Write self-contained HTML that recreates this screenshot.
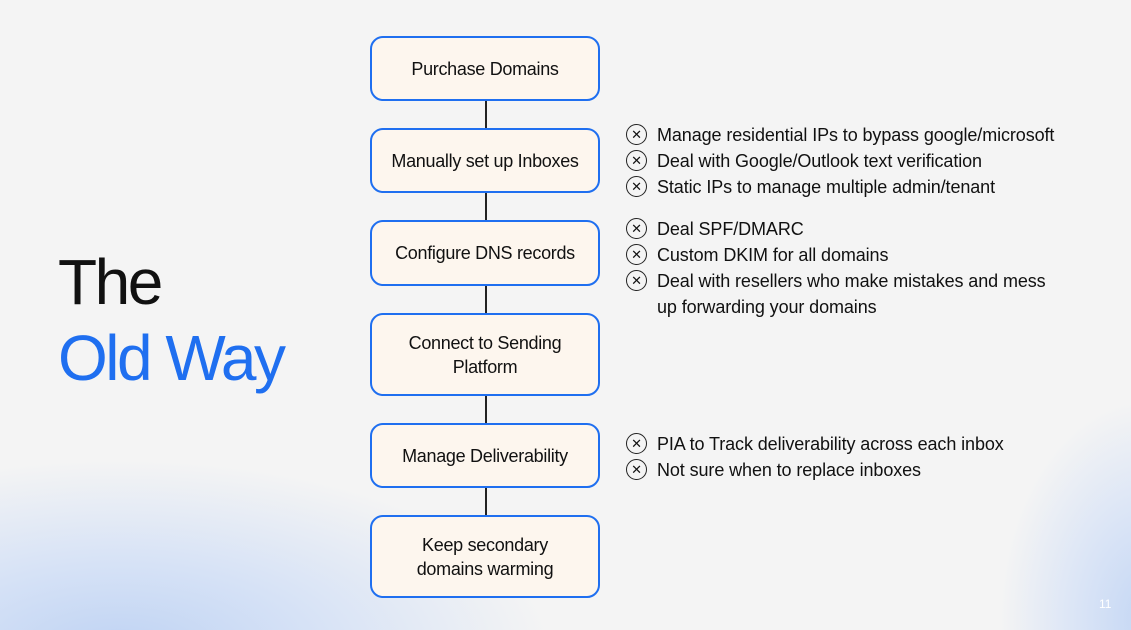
<!DOCTYPE html>
<html><head><style>
body{margin:0;width:1131px;height:630px;overflow:hidden;background:#f4f4f4;font-family:"Liberation Sans",sans-serif;position:relative}
.bg{position:absolute;inset:0;background:
radial-gradient(ellipse 430px 190px at 120px 650px,#bfd3f3 0%,#d6e2f6 45%,rgba(244,244,244,0) 100%),
radial-gradient(ellipse 150px 220px at 1150px 620px,#c3d6f4 0%,#dbe5f6 50%,rgba(244,244,244,0) 100%);}
.box{position:absolute;left:370px;width:226px;border:2px solid #1f6ff0;border-radius:13px;background:#fdf6ee;display:flex;align-items:center;justify-content:center;text-align:center;font-size:18px;color:#111;line-height:24px;letter-spacing:-0.3px}
.line{position:absolute;left:485px;width:2px;background:#222}
.t{position:absolute;font-size:64px;letter-spacing:-2.5px;left:58px;line-height:1}
.b{position:absolute;left:626px;font-size:18px;color:#111;letter-spacing:-0.1px;line-height:26px}
.b div{position:relative;padding-left:31px}
.b div::before{content:"✕";position:absolute;left:0;top:2px;width:19px;height:19px;border:1.5px solid #222;border-radius:50%;font-size:13px;line-height:19px;text-align:center;font-weight:normal}
</style></head><body>
<div class="bg"></div>
<div class="t" style="top:250px;color:#111">The</div>
<div class="t" style="top:326px;color:#1f6ff0">Old Way</div>
<div class="line" style="top:101px;height:27px"></div>
<div class="line" style="top:193px;height:27px"></div>
<div class="line" style="top:286px;height:27px"></div>
<div class="line" style="top:396px;height:27px"></div>
<div class="line" style="top:488px;height:27px"></div>
<div class="box" style="top:36px;height:61px">Purchase Domains</div>
<div class="box" style="top:128px;height:61px">Manually set up Inboxes</div>
<div class="box" style="top:220px;height:62px">Configure DNS records</div>
<div class="box" style="top:313px;height:79px">Connect to Sending<br>Platform</div>
<div class="box" style="top:423px;height:61px">Manage Deliverability</div>
<div class="box" style="top:515px;height:79px">Keep secondary<br>domains warming</div>
<div class="b" style="top:122px">
<div>Manage residential IPs to bypass google/microsoft</div>
<div>Deal with Google/Outlook text verification</div>
<div>Static IPs to manage multiple admin/tenant</div></div>
<div class="b" style="top:216px">
<div>Deal SPF/DMARC</div>
<div>Custom DKIM for all domains</div>
<div>Deal with resellers who make mistakes and mess<br>up forwarding your domains</div></div>
<div class="b" style="top:431px">
<div>PIA to Track deliverability across each inbox</div>
<div>Not sure when to replace inboxes</div></div>
<div style="position:absolute;left:1099px;top:597px;font-size:12px;color:#fff">11</div>
</body></html>
